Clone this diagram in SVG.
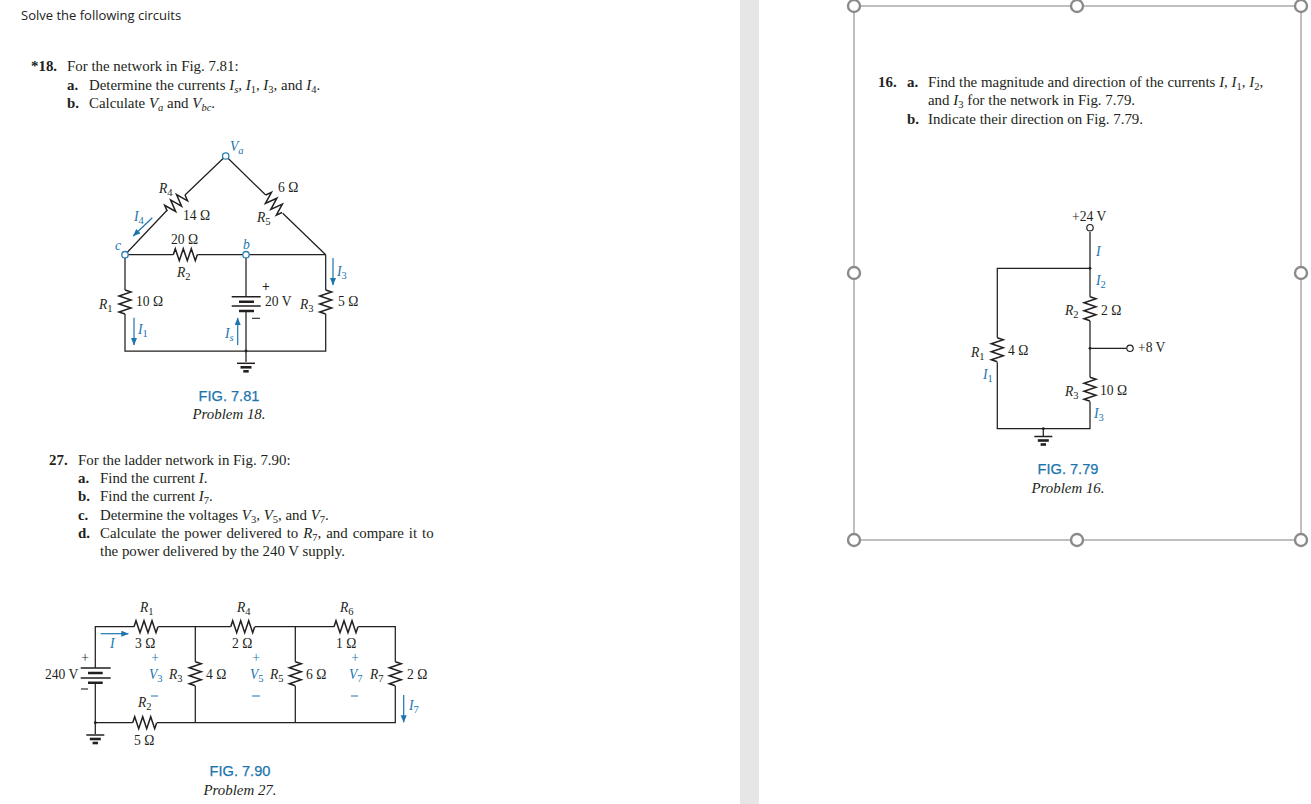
<svg xmlns="http://www.w3.org/2000/svg" xmlns:xlink="http://www.w3.org/1999/xlink" width="1311" height="804" viewBox="0 0 1311 804">
<style>
text{font-family:"Liberation Serif","Times New Roman",serif;fill:#231f20}
.b{font-size:14.9px}
.h{font-weight:bold}
.l{font-size:13.6px}
.s{font-size:10.5px;font-style:normal}
.i{font-style:italic}
.c{fill:#1b75ae}
.t{text-anchor:middle}
.cap{font-family:"Liberation Sans",Arial,sans-serif;font-size:14.6px;fill:#1b75ae;text-anchor:middle;stroke:#1b75ae;stroke-width:.25}
.w{fill:none;stroke:#231f20;stroke-width:1.25}
.a{fill:none;stroke:#1b75ae;stroke-width:1.2;marker-end:url(#ah)}
.n{fill:#fff;stroke:#2a7fb0;stroke-width:1.3}
.n2{fill:#fff;stroke:#231f20;stroke-width:1.2}
.p{stroke:#231f20;stroke-width:1.5}
.p2{stroke:#231f20;stroke-width:2.6}
.m{stroke:#231f20;stroke-width:1.1}
.hd{fill:#fff;stroke:#8a8a8a;stroke-width:2.4}
</style>
<defs>
<marker id="ah" markerUnits="userSpaceOnUse" markerWidth="8" markerHeight="7" refX="7" refY="3" orient="auto"><path d="M0 0L7.5 3L0 6z" fill="#1b75ae"/></marker>
<path id="res" d="M0 0L2 -6L6 6L10 -6L14 6L18 -6L22 6L24 0" fill="none" stroke="#231f20" stroke-width="1.5"/>
<g id="gnd"><path class="p" d="M-9 0H9"/><path class="p2" d="M-5.5 4H5.5"/><path class="p2" d="M-2.7 8H2.7"/></g>
</defs>
<rect width="1311" height="804" fill="#fff"/>
<rect x="740" y="0" width="19" height="804" fill="#e6e6e6"/>
<g id="page-text">
<text x="21" y="20" style="font-family:'Open Sans',sans-serif;font-size:13px;fill:#222">Solve the following circuits</text>
<text class="b h" x="31" y="71">*18.</text>
<text class="b" x="67" y="71">For the network in Fig. 7.81:</text>
<text class="b h" x="67" y="90">a.</text>
<text class="b" x="89" y="90">Determine the currents <tspan class="i">I<tspan class="s i" dy="3">s</tspan><tspan dy="-3">,</tspan> I<tspan class="s" dy="3">1</tspan><tspan dy="-3">,</tspan> I<tspan class="s" dy="3">3</tspan></tspan><tspan dy="-3">,</tspan> and <tspan class="i">I<tspan class="s" dy="3">4</tspan></tspan><tspan dy="-3">.</tspan></text>
<text class="b h" x="67" y="108">b.</text>
<text class="b" x="89" y="108">Calculate <tspan class="i">V<tspan class="s i" dy="3">a</tspan></tspan><tspan dy="-3"> and </tspan><tspan class="i">V<tspan class="s i" dy="3">bc</tspan></tspan><tspan dy="-3">.</tspan></text>
<text class="b h" x="49" y="465">27.</text>
<text class="b" x="78" y="465">For the ladder network in Fig. 7.90:</text>
<text class="b h" x="78" y="483">a.</text>
<text class="b" x="100" y="483">Find the current <tspan class="i">I</tspan>.</text>
<text class="b h" x="78" y="501">b.</text>
<text class="b" x="100" y="501">Find the current <tspan class="i">I<tspan class="s" dy="3">7</tspan></tspan><tspan dy="-3">.</tspan></text>
<text class="b h" x="78" y="520">c.</text>
<text class="b" x="100" y="520">Determine the voltages <tspan class="i">V<tspan class="s" dy="3">3</tspan></tspan><tspan dy="-3">, </tspan><tspan class="i">V<tspan class="s" dy="3">5</tspan></tspan><tspan dy="-3">, and </tspan><tspan class="i">V<tspan class="s" dy="3">7</tspan></tspan><tspan dy="-3">.</tspan></text>
<text class="b h" x="78" y="538">d.</text>
<text class="b" x="100" y="538" word-spacing="1.2">Calculate the power delivered to <tspan class="i">R<tspan class="s" dy="3">7</tspan></tspan><tspan dy="-3">, and compare it to</tspan></text>
<text class="b" x="100" y="556">the power delivered by the 240 V supply.</text>
<text class="cap" x="229" y="401">FIG. 7.81</text>
<text class="b t i" x="229" y="419">Problem 18.</text>
<text class="cap" x="240" y="776">FIG. 7.90</text>
<text class="b t i" x="240" y="795">Problem 27.</text>
<text class="b h" x="878" y="87">16.</text>
<text class="b h" x="907" y="87">a.</text>
<text class="b" x="928" y="87">Find the magnitude and direction of the currents <tspan class="i">I, I<tspan class="s" dy="3">1</tspan><tspan dy="-3">, I</tspan><tspan class="s" dy="3">2</tspan></tspan><tspan dy="-3">,</tspan></text>
<text class="b" x="928" y="105">and <tspan class="i">I<tspan class="s" dy="3">3</tspan></tspan><tspan dy="-3"> for the network in Fig. 7.79.</tspan></text>
<text class="b h" x="907" y="124">b.</text>
<text class="b" x="928" y="124">Indicate their direction on Fig. 7.79.</text>
<text class="cap" x="1068" y="474">FIG. 7.79</text>
<text class="b t i" x="1068" y="493">Problem 16.</text>
</g>
<g id="selection-frame">
<rect x="854" y="6" width="447" height="534" fill="none" stroke="#8a8a8a" stroke-width="1.1"/>
<circle class="hd" cx="854" cy="6" r="6"/><circle class="hd" cx="1077" cy="6" r="6"/><circle class="hd" cx="1301" cy="6" r="6"/>
<circle class="hd" cx="854" cy="273" r="6"/><circle class="hd" cx="1301" cy="273" r="6"/>
<circle class="hd" cx="854" cy="540" r="6"/><circle class="hd" cx="1077" cy="540" r="6"/><circle class="hd" cx="1301" cy="540" r="6"/>
</g>
<g id="connectors">
<path class="w" d="M225.7 156L185 195M167.3 210L125 254.7M225.7 156L265.7 195M282.7 213.3L325.7 254.7"/>
<path class="w" d="M125 254.7H173.3M197.3 254.7H325.7M125 254.7V290M125 314V351H325.7V314M325.7 290V254.7M246 254.7V296.7M246 311V351V362"/>
<path class="a" d="M152.3 217.7L133.3 236"/><path class="a" d="M134 317.7V345"/><path class="a" d="M333 258V285"/><path class="a" d="M237.7 345V318"/>
<path class="w" d="M95.3 668V626.7H134M158.3 626.7H230.7M255 626.7H334M358.3 626.7H395.3V661.7M395.3 686V722.7H157M132.7 722.7H95.3V682.7M95.3 722.7V734"/>
<path class="w" d="M195.3 626.7V661.7M195.3 686V722.7M295.3 626.7V661.7M295.3 686V722.7"/>
<path class="a" d="M100.7 633.7H128.3"/><path class="a" d="M403.7 695V722.3"/>
<path class="w" d="M1090 232V296.7M1090 320.7V377.3M1090 401.7V428.7H997.3V362.3M997.3 337.7V268.3H1090M1090 348.3H1126.5M1043.3 428.7V436"/>
</g>
<g id="fig781-nodes">
<g id="va"><circle class="n" cx="225.7" cy="156" r="3.2"/></g>
<g id="c"><circle class="n" cx="125" cy="254.7" r="3.2"/></g>
<g id="b"><circle class="n" cx="246" cy="254.7" r="3.2"/></g>
<g id="r4"><use xlink:href="#res" href="#res" transform="translate(185,195) rotate(138)"/></g>
<g id="r5"><use xlink:href="#res" href="#res" transform="translate(265.7,195) rotate(47)"/></g>
<g id="r2"><use xlink:href="#res" href="#res" transform="translate(173.3,254.7)"/></g>
<g id="r1"><use xlink:href="#res" href="#res" transform="translate(125,290) rotate(90)"/></g>
<g id="r3"><use xlink:href="#res" href="#res" transform="translate(325.7,290) rotate(90)"/></g>
<g id="bat1"><path class="p" d="M231.7 296.7H260.7M231.7 306H260.7"/><path class="p2" d="M239 301.7H254M239 311H254"/></g>
<g id="gnd1"><circle cx="246" cy="351" r="1.4" fill="#231f20"/><use xlink:href="#gnd" href="#gnd" transform="translate(246,363.3)"/></g>
<text class="l i c" x="230" y="151">V<tspan class="s i" dy="3">a</tspan></text>
<text class="l i" x="159" y="193">R<tspan class="s" dy="3">4</tspan></text>
<text class="l" x="183" y="220">14 Ω</text>
<text class="l" x="278" y="192">6 Ω</text>
<text class="l i" x="257" y="222">R<tspan class="s" dy="3">5</tspan></text>
<text class="l i c" x="134" y="221">I<tspan class="s" dy="3">4</tspan></text>
<text class="l i c" x="115" y="250">c</text>
<text class="l i c" x="243" y="249">b</text>
<text class="l" x="171" y="244">20 Ω</text>
<text class="l i" x="177" y="277">R<tspan class="s" dy="3">2</tspan></text>
<text class="l i" x="99" y="309">R<tspan class="s" dy="3">1</tspan></text>
<text class="l" x="136" y="306">10 Ω</text>
<text class="l i c" x="138" y="334">I<tspan class="s" dy="3">1</tspan></text>
<text class="l" x="265" y="306">20 V</text>
<text class="l i" x="300" y="309">R<tspan class="s" dy="3">3</tspan></text>
<text class="l" x="338" y="306">5 Ω</text>
<text class="l i c" x="337" y="276">I<tspan class="s" dy="3">3</tspan></text>
<text class="l i c" x="225" y="338">I<tspan class="s i" dy="3">s</tspan></text>
<text class="l h" x="262" y="291">+</text>
<path class="m" d="M252 318.3H260"/>
</g>
<g id="fig790-nodes">
<g id="r1b"><use xlink:href="#res" href="#res" transform="translate(134,626.7)"/></g>
<g id="r4b"><use xlink:href="#res" href="#res" transform="translate(230.7,626.7)"/></g>
<g id="r6b"><use xlink:href="#res" href="#res" transform="translate(334,626.7)"/></g>
<g id="r2b"><use xlink:href="#res" href="#res" transform="translate(132.7,722.7)"/></g>
<g id="r3b"><use xlink:href="#res" href="#res" transform="translate(195.3,661.7) rotate(90)"/></g>
<g id="r5b"><use xlink:href="#res" href="#res" transform="translate(295.3,661.7) rotate(90)"/></g>
<g id="r7b"><use xlink:href="#res" href="#res" transform="translate(395.3,661.7) rotate(90)"/></g>
<g id="bat2"><path class="p" d="M80.7 668H110.7M80.7 678H110.7"/><path class="p2" d="M88 673H102.7M88 682.7H102.7"/></g>
<g id="gnd2"><circle cx="95.3" cy="722.7" r="1.4" fill="#231f20"/><use xlink:href="#gnd" href="#gnd" transform="translate(95.3,735)"/></g>
<text class="l i" x="140" y="612">R<tspan class="s" dy="3">1</tspan></text>
<text class="l i" x="237" y="612">R<tspan class="s" dy="3">4</tspan></text>
<text class="l i" x="340" y="612">R<tspan class="s" dy="3">6</tspan></text>
<text class="l i c" x="110" y="648">I</text>
<text class="l" x="135" y="648">3 Ω</text>
<text class="l" x="232" y="648">2 Ω</text>
<text class="l" x="336" y="648">1 Ω</text>
<text class="l c t" x="155" y="662">+</text>
<text class="l c t" x="256" y="662">+</text>
<text class="l c t" x="355" y="662">+</text>
<text class="l" x="45" y="679">240 V</text>
<text class="l t" x="85" y="662">+</text>
<path class="m" d="M81 689H88"/>
<text class="l i c" x="149" y="679">V<tspan class="s" dy="3">3</tspan></text>
<text class="l i" x="169" y="679">R<tspan class="s" dy="3">3</tspan></text>
<text class="l" x="206" y="679">4 Ω</text>
<text class="l i c" x="250" y="679">V<tspan class="s" dy="3">5</tspan></text>
<text class="l i" x="270" y="679">R<tspan class="s" dy="3">5</tspan></text>
<text class="l" x="306" y="679">6 Ω</text>
<text class="l i c" x="349" y="679">V<tspan class="s" dy="3">7</tspan></text>
<text class="l i" x="370" y="679">R<tspan class="s" dy="3">7</tspan></text>
<text class="l" x="407" y="679">2 Ω</text>
<path d="M151 696H158M252 696H260M351 696H358" stroke="#1b75ae" stroke-width="1.1"/>
<text class="l i" x="138" y="707">R<tspan class="s" dy="3">2</tspan></text>
<text class="l" x="134" y="745">5 Ω</text>
<text class="l i c" x="409" y="710">I<tspan class="s" dy="3">7</tspan></text>
</g>
<g id="fig779-nodes">
<g id="n24"><circle class="n2" cx="1090" cy="227.7" r="3.2"/></g>
<g id="n8"><circle class="n2" cx="1130" cy="348.3" r="3.2"/></g>
<circle cx="1090" cy="268.3" r="1.4" fill="#231f20"/><circle cx="1090" cy="348.3" r="1.4" fill="#231f20"/><circle cx="1043.3" cy="428.7" r="1.4" fill="#231f20"/>
<g id="r2c"><use xlink:href="#res" href="#res" transform="translate(1090,296.7) rotate(90)"/></g>
<g id="r3c"><use xlink:href="#res" href="#res" transform="translate(1090,377.3) rotate(90)"/></g>
<g id="r1c"><use xlink:href="#res" href="#res" transform="translate(997.3,337.7) rotate(90)"/></g>
<g id="gnd3"><use xlink:href="#gnd" href="#gnd" transform="translate(1043.3,436.5)"/></g>
<text class="l" x="1072" y="221">+24 V</text>
<text class="l i c" x="1096" y="256">I</text>
<text class="l i c" x="1096" y="285">I<tspan class="s" dy="3">2</tspan></text>
<text class="l i" x="1065" y="315">R<tspan class="s" dy="3">2</tspan></text>
<text class="l" x="1101" y="315">2 Ω</text>
<text class="l" x="1138" y="352">+8 V</text>
<text class="l i" x="971" y="357">R<tspan class="s" dy="3">1</tspan></text>
<text class="l" x="1008" y="355">4 Ω</text>
<text class="l i c" x="983" y="379">I<tspan class="s" dy="3">1</tspan></text>
<text class="l i" x="1065" y="396">R<tspan class="s" dy="3">3</tspan></text>
<text class="l" x="1100" y="395">10 Ω</text>
<text class="l i c" x="1094" y="418">I<tspan class="s" dy="3">3</tspan></text>
</g>
</svg>
